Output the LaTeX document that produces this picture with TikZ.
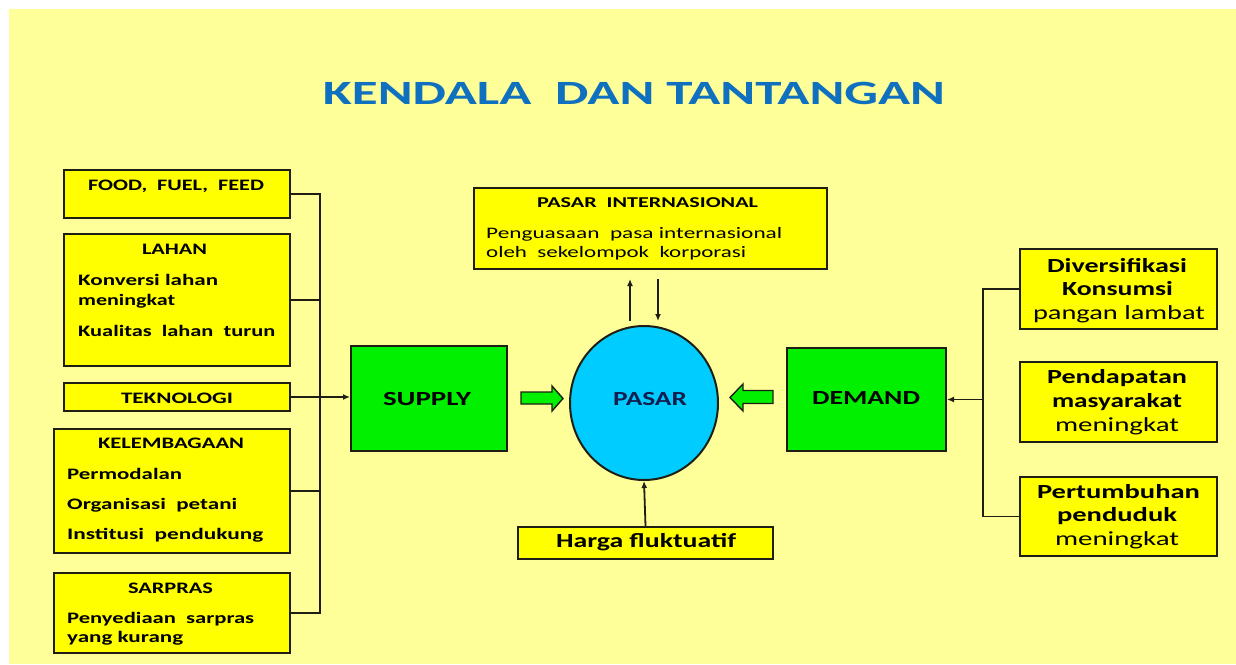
\documentclass[tikz,border=0pt]{standalone}
\usepackage{fontspec}
\setmainfont{Carlito}
\usepackage{graphicx}
\usetikzlibrary{arrows.meta,shapes.geometric}
\definecolor{bgyel}{RGB}{255,255,153}
\definecolor{boxyel}{RGB}{255,255,0}
\definecolor{boxgreen}{RGB}{0,240,0}
\definecolor{pasarcyan}{RGB}{0,204,255}
\definecolor{titleblue}{RGB}{16,112,192}
\definecolor{navy}{RGB}{20,30,80}
\definecolor{edge}{RGB}{30,30,20}
\newcommand\fw[2]{\resizebox{#1}{\height}{#2}}
\tikzset{
  ybox/.style={draw=edge, line width=2pt, fill=boxyel, inner sep=0pt},
  gbox/.style={draw=edge, line width=2pt, fill=boxgreen, inner sep=0pt},
  txt/.style={inner sep=0pt, anchor=base, text=black},
  txtw/.style={inner sep=0pt, anchor=base west, text=black},
  conn/.style={draw=edge, line width=1.8pt},
  tip/.style={-{Latex[length=7pt,width=6pt]}},
  blockarrow/.style={draw=edge, line width=1.4pt, fill=boxgreen, line join=miter},
}
\begin{document}
\begin{tikzpicture}[x=1pt,y=-1pt]
\useasboundingbox (0,0) rectangle (1236,664);
\fill[white] (0,0) rectangle (1236,664);
\fill[bgyel] (9,9) rectangle (1236,664);

% title
\node[inner sep=0pt, anchor=base, text=titleblue, font=\fontsize{34}{40}\selectfont\bfseries] (title) at (634,104) {\fw{622pt}{KENDALA\ \ DAN TANTANGAN}};

% left boxes
\node[ybox, minimum width=226pt, minimum height=48pt] (food) at (177,194) {};
\node[ybox, minimum width=226pt, minimum height=132pt] (lahan) at (177,300) {};
\node[ybox, minimum width=226pt, minimum height=28pt] (tek) at (177,397) {};
\node[ybox, minimum width=236pt, minimum height=124pt] (kel) at (172,491) {};
\node[ybox, minimum width=236pt, minimum height=80pt] (sar) at (172,613) {};

\begin{scope}[every node/.append style={font=\fontsize{16}{19}\selectfont\bfseries}]
\node[txt] (t1) at (176,190) {\fw{176pt}{FOOD,\ \ FUEL,\ \ FEED}};
\node[txt] (t2) at (174.5,254) {\fw{65pt}{LAHAN}};
\node[txtw] (t3) at (78,285) {\fw{140pt}{Konversi lahan}};
\node[txtw] (t4) at (78,305) {\fw{97pt}{meningkat}};
\node[txtw] (t5) at (78,336.5) {\fw{197pt}{Kualitas\ \ lahan\ \ turun}};
\node[txt] (t6) at (177,403) {\fw{112pt}{TEKNOLOGI}};
\node[txt] (t7) at (171,448) {\fw{146pt}{KELEMBAGAAN}};
\node[txtw] (t8) at (67,479.5) {\fw{115pt}{Permodalan}};
\node[txtw] (t9) at (67,509) {\fw{170pt}{Organisasi\ \ petani}};
\node[txtw] (t10) at (67,539) {\fw{196pt}{Institusi\ \ pendukung}};
\node[txt] (t11) at (170.5,593) {\fw{85pt}{SARPRAS}};
\node[txtw] (t12) at (67,623) {\fw{187pt}{Penyediaan\ \ sarpras}};
\node[txtw] (t13) at (67,642) {\fw{116pt}{yang kurang}};
\end{scope}

% centre
\node[gbox, minimum width=156pt, minimum height=105pt] (supply) at (429,398.5) {};
\node[draw=edge, line width=2pt, fill=pasarcyan, ellipse, inner sep=0pt, minimum width=148pt, minimum height=154pt] (pasar) at (644,403) {};
\node[gbox, minimum width=159pt, minimum height=103pt] (demand) at (866.5,399.5) {};
\node[ybox, minimum width=353pt, minimum height=81pt] (pi) at (650.5,228.5) {};
\node[ybox, minimum width=255pt, minimum height=32pt] (harga) at (645.5,543) {};

\node[txt, font=\fontsize{20}{24}\selectfont\bfseries] (ts) at (427,405) {\fw{88pt}{SUPPLY}};
\node[txt, text=navy, font=\fontsize{20}{24}\selectfont\bfseries] (tp) at (650,405) {\fw{74pt}{PASAR}};
\node[txt, font=\fontsize{20}{24}\selectfont\bfseries] (td) at (866,404) {\fw{108pt}{DEMAND}};
\node[txt, font=\fontsize{15}{18}\selectfont\bfseries] (tpi) at (647.5,207) {\fw{221pt}{PASAR\ \ INTERNASIONAL}};
\node[txtw, font=\fontsize{16}{19}\selectfont] (tpi2) at (486,238) {\fw{296pt}{Penguasaan\ \ pasa internasional}};
\node[txtw, font=\fontsize{16}{19}\selectfont] (tpi3) at (486,257) {\fw{260pt}{oleh\ \ sekelompok\ \ korporasi}};
\node[txt, font=\fontsize{20}{24}\selectfont\bfseries] (th) at (646,547) {\fw{180pt}{Harga fluktuatif}};

% right boxes
\node[ybox, minimum width=197pt, minimum height=80pt] (div) at (1118.5,289) {};
\node[ybox, minimum width=197pt, minimum height=80pt] (pend) at (1118.5,402) {};
\node[ybox, minimum width=197pt, minimum height=79pt] (pert) at (1118.5,516.5) {};

\begin{scope}[every node/.append style={font=\fontsize{20}{24}\selectfont\bfseries}]
\node[txt] (r1) at (1117,272) {\fw{140pt}{Diversifikasi}};
\node[txt] (r2) at (1117.5,295) {\fw{111pt}{Konsumsi}};
\node[txt, font=\fontsize{20}{24}\selectfont\mdseries] (r3) at (1119,319) {\fw{172pt}{pangan lambat}};
\node[txt] (r4) at (1117,383) {\fw{140pt}{Pendapatan}};
\node[txt] (r5) at (1117,407) {\fw{130pt}{masyarakat}};
\node[txt, font=\fontsize{20}{24}\selectfont\mdseries] (r6) at (1117,431) {\fw{124pt}{meningkat}};
\node[txt] (r7) at (1118.5,498) {\fw{163pt}{Pertumbuhan}};
\node[txt] (r8) at (1117,521) {\fw{120pt}{penduduk}};
\node[txt, font=\fontsize{20}{24}\selectfont\mdseries] (r9) at (1117,545) {\fw{124pt}{meningkat}};
\end{scope}

% left bus
\coordinate (busL) at (320,0);
\draw[conn] (food.east) -- (food.east -| busL) -- (sar.east -| busL) -- (sar.east);
\draw[conn] (lahan.east) -- (lahan.east -| busL);
\draw[conn] (kel.east) -- (kel.east -| busL);
\draw[conn, tip] (tek.east) -- (tek.east -| supply.west);

% right bus
\coordinate (busR) at (983,0);
\draw[conn] (div.west) -- (div.west -| busR) -- (pert.west -| busR) -- (pert.west);
\draw[conn, tip] (demand.east -| busR) -- (demand.east);

% pasar internasional arrows
\coordinate (upA) at (630,321);
\coordinate (dnA) at (658,321);
\draw[conn, tip, shorten >=9pt] (upA) -- (upA |- pi.south);
\draw[conn, tip, shorten <=9pt] (dnA |- pi.south) -- (dnA);

% harga arrow
\draw[conn, tip] (harga.north) -- (pasar.south);

% block arrows
\draw[blockarrow] (521,392) -- (552,392) -- (552,386) -- (563,398.5) -- (552,411) -- (552,404) -- (521,404) -- cycle;
\draw[blockarrow] (773,390.5) -- (743,390.5) -- (743,384) -- (730,397.5) -- (743,411) -- (743,403.5) -- (773,403.5) -- cycle;
\end{tikzpicture}
\end{document}
